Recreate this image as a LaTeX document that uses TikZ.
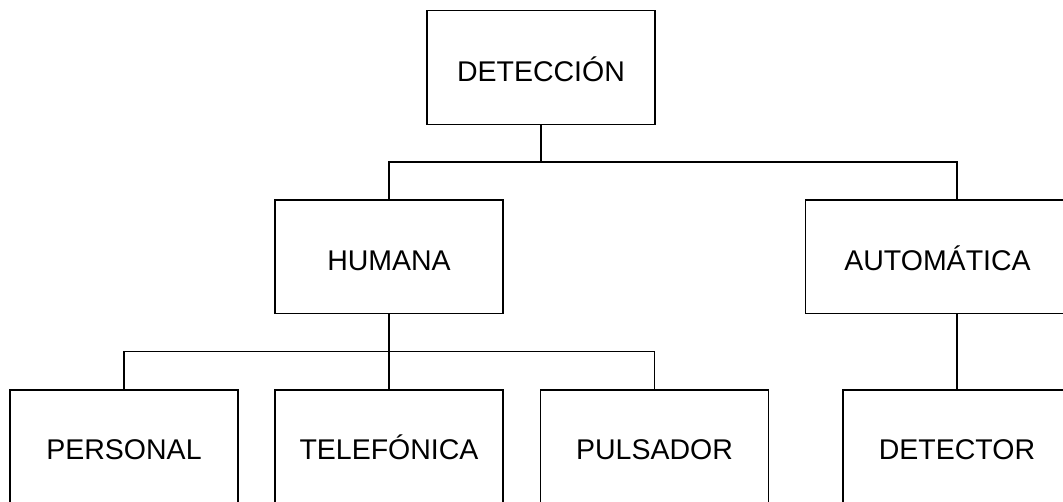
\documentclass[tikz,border=0pt]{standalone}
\usepackage{fontspec}
\setmainfont{Liberation Sans}
\begin{document}
\begin{tikzpicture}[x=1pt,y=-1pt,
  boxnode/.style={draw,line width=1.3pt,inner sep=0pt,minimum width=228pt,minimum height=113.5pt,text height=28.4pt,text depth=0pt,font=\fontsize{28.5}{34}\selectfont},
  lowbox/.style={boxnode,minimum height=118pt,text height=20.4pt},
  conn/.style={line width=1.3pt}]
\useasboundingbox (0,0) rectangle (1063,501);
\clip (0,0) rectangle (1063,501);
\fill[white] (0,0) rectangle (1063,501);
\node[boxnode] (top) at (541,67.5) {DETECCIÓN};
\node[boxnode] (hum) at (389,256.7) {HUMANA};
\node[boxnode,minimum width=263.5pt] (aut) at (937.5,256.7) {AUTOMÁTICA};
\node[lowbox] (per) at (124,449) {PERSONAL};
\node[lowbox] (tel) at (389,449) {TELEFÓNICA};
\node[lowbox] (pul) at (654.5,449) {PULSADOR};
\node[lowbox] (det) at (957,449) {DETECTOR};
\coordinate (j1) at (541,162);
\coordinate (j2) at (389,351.5);
\draw[conn] (top.south) -- (j1);
\draw[conn] (hum.north) |- (j1) -| (det.north |- aut.north);
\draw[conn] (hum.south) -- (j2);
\draw[conn] (per.north) |- (j2) -| (pul.north);
\draw[conn] (j2) -- (tel.north);
\draw[conn] (det.north) -- (det.north |- aut.south);
\end{tikzpicture}
\end{document}
